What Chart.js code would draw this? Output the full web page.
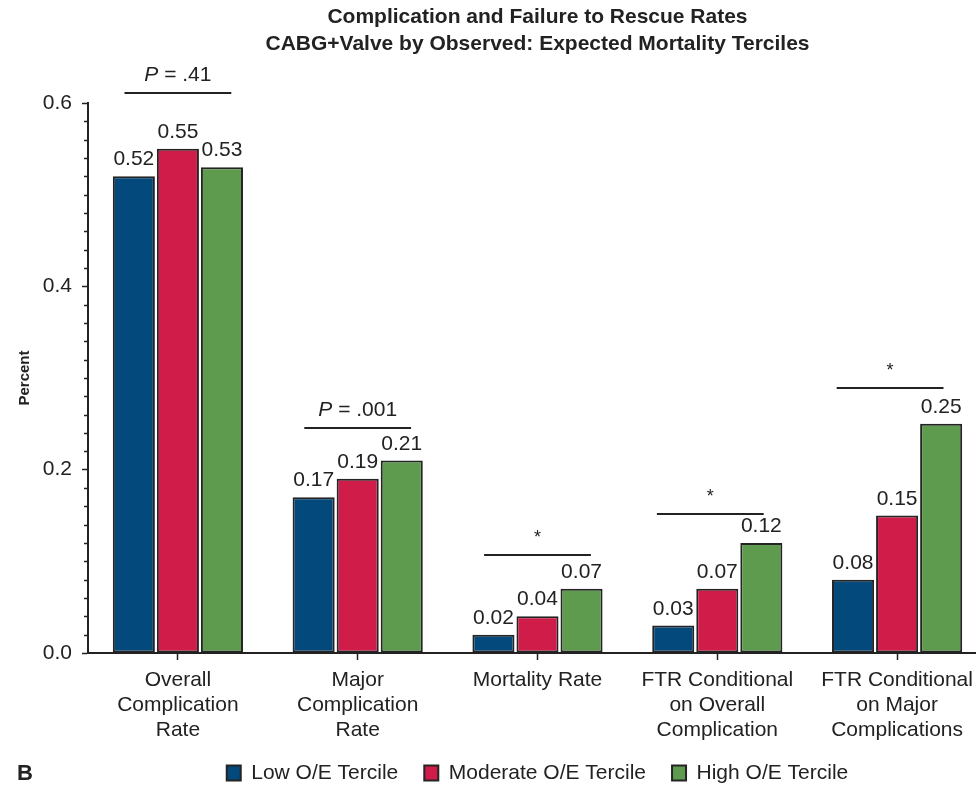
<!DOCTYPE html>
<html>
<head>
<meta charset="utf-8">
<script src="https://cdn.jsdelivr.net/npm/chart.js@4.4.1/dist/chart.umd.min.js"></script>
<style>
  html, body { margin: 0; padding: 0; background: #fff; overflow: hidden; }
  #wrap { width: 1075px; height: 785px; }
</style>
</head>
<body>
<div id="wrap"><canvas id="chart" width="1075" height="785"></canvas></div>
<script>
// ---- data ----
const categories = [
  ['Overall', 'Complication', 'Rate'],
  ['Major', 'Complication', 'Rate'],
  ['Mortality Rate'],
  ['FTR Conditional', 'on Overall', 'Complication'],
  ['FTR Conditional', 'on Major', 'Complications']
];
const seriesNames = ['Low O/E Tercile', 'Moderate O/E Tercile', 'High O/E Tercile'];
const lowTercile = [0.52, 0.17, 0.02, 0.03, 0.08];
const moderateTercile = [0.55, 0.19, 0.04, 0.07, 0.15];
const highTercile = [0.53, 0.21, 0.07, 0.12, 0.25];
const yTicks = [0.0, 0.2, 0.4, 0.6];
const significanceLabels = ['P = .41', 'P = .001', '*', '*', '*'];
const significanceLevels = [0.611, 0.245, 0.107, 0.152, 0.289];

const FONT = '"Liberation Sans", Arial, Helvetica, sans-serif';
const INK = '#222222';
const BAR_EDGE = '#242424';
const seriesColors = ['#03497c', '#cf1c48', '#5e9b4e'];

// value labels, significance brackets, minor ticks and panel letter
const annotations = {
  id: 'annotations',
  afterDatasetsDraw(chart, args, opts) {
    const ctx = chart.ctx;
    const xs = chart.scales.x, ys = chart.scales.y;

    // value above each bar
    ctx.save();
    ctx.font = '21px ' + FONT;
    ctx.fillStyle = INK;
    ctx.textAlign = 'center';
    ctx.textBaseline = 'alphabetic';
    chart.data.datasets.forEach((ds, di) => {
      chart.getDatasetMeta(di).data.forEach((bar, i) => {
        ctx.fillText(ds.data[i].toFixed(2), bar.x, bar.y - 11);
      });
    });
    ctx.restore();

    // significance brackets
    const catWidth = xs.width / categories.length;
    ctx.save();
    ctx.strokeStyle = INK;
    ctx.fillStyle = INK;
    ctx.lineWidth = 2;
    significanceLabels.forEach((label, i) => {
      const cx = xs.getPixelForValue(i) + (opts.shifts[i] || 0);
      const half = catWidth * 0.297;
      const y = Math.round(ys.getPixelForValue(significanceLevels[i]));
      ctx.beginPath();
      ctx.moveTo(cx - half, y);
      ctx.lineTo(cx + half, y);
      ctx.stroke();
      ctx.textBaseline = 'alphabetic';
      if (label.startsWith('P')) {
        const head = 'P';
        const rest = label.slice(1);
        ctx.font = 'italic 21px ' + FONT;
        const wHead = ctx.measureText(head).width;
        ctx.font = '21px ' + FONT;
        const wRest = ctx.measureText(rest).width;
        const x0 = cx - (wHead + wRest) / 2;
        ctx.textAlign = 'left';
        ctx.font = 'italic 21px ' + FONT;
        ctx.fillText(head, x0, y - 12);
        ctx.font = '21px ' + FONT;
        ctx.fillText(rest, x0 + wHead, y - 12);
      } else {
        ctx.textAlign = 'center';
        ctx.font = '18px ' + FONT;
        ctx.fillText(label, cx, y - 12);
      }
    });
    ctx.restore();
  },
  afterDraw(chart) {
    const ctx = chart.ctx;
    const ys = chart.scales.y;
    const axisX = chart.chartArea.left;
    // minor ticks every 0.02
    ctx.save();
    ctx.strokeStyle = INK;
    ctx.lineWidth = 1.5;
    for (let k = 1; k < 30; k++) {
      if (k % 10 === 0) continue;
      const y = Math.round(ys.getPixelForValue(k * 0.02)) + 0.5;
      ctx.beginPath();
      ctx.moveTo(axisX - 4, y);
      ctx.lineTo(axisX, y);
      ctx.stroke();
    }
    // panel letter
    ctx.fillStyle = INK;
    ctx.font = 'bold 22px ' + FONT;
    ctx.textAlign = 'left';
    ctx.textBaseline = 'middle';
    ctx.fillText('B', 17, 774);
    ctx.restore();
  }
};

const datasets = [lowTercile, moderateTercile, highTercile].map((values, i) => ({
  label: seriesNames[i],
  data: values,
  backgroundColor: seriesColors[i],
  borderColor: BAR_EDGE,
  borderWidth: 2,
  borderSkipped: false,
  categoryPercentage: 0.735,
  barPercentage: 0.955
}));

new Chart(document.getElementById('chart'), {
  type: 'bar',
  data: { labels: categories, datasets },
  plugins: [annotations],
  options: {
    responsive: false,
    animation: false,
    events: [],
    layout: { padding: { left: 0, right: 88, top: 0, bottom: -8.5 } },
    scales: {
      x: {
        grid: {
          offset: false,
          drawOnChartArea: false,
          drawTicks: true,
          tickLength: 7,
          tickColor: INK,
          tickWidth: 1.5
        },
        border: { display: true, color: INK, width: 2 },
        ticks: {
          color: INK,
          padding: 8,
          maxRotation: 0,
          autoSkip: false,
          font: { family: FONT, size: 21, lineHeight: '25px' }
        },
        afterFit(scale) {
          // legend row sits close under the third label line
          scale.height = 83.5;
          scale._computeLabelArea = () => undefined;
        }
      },
      y: {
        min: 0,
        max: 0.6,
        afterBuildTicks(scale) { scale.ticks = yTicks.map(v => ({ value: v })); },
        grid: {
          drawOnChartArea: false,
          drawTicks: true,
          tickLength: 6,
          tickColor: INK,
          tickWidth: 1.5
        },
        border: { display: true, color: INK, width: 2 },
        ticks: {
          color: INK,
          padding: 10,
          font: { family: FONT, size: 21 },
          callback: v => Number(v).toFixed(1)
        },
        title: {
          display: true,
          text: 'Percent',
          color: INK,
          padding: { top: 16, bottom: 0 },
          font: { family: FONT, size: 15, weight: 'bold', lineHeight: 1.2 }
        },
        afterFit(scale) { scale.width = 88; }
      }
    },
    plugins: {
      tooltip: { enabled: false },
      annotations: { shifts: [0, 0, 0, -7, -7] },
      title: {
        display: true,
        fullSize: false,
        text: ['Complication and Failure to Rescue Rates', 'CABG+Valve by Observed: Expected Mortality Terciles'],
        color: INK,
        font: { family: FONT, size: 21, weight: 'bold', lineHeight: '27px' },
        padding: { top: 3.5, bottom: 45.5 }
      },
      legend: {
        position: 'bottom',
        fullSize: false,
        labels: {
          color: INK,
          boxWidth: 14,
          boxHeight: 15,
          padding: 26,
          font: { family: FONT, size: 21 }
        }
      }
    }
  }
});
</script>
</body>
</html>
